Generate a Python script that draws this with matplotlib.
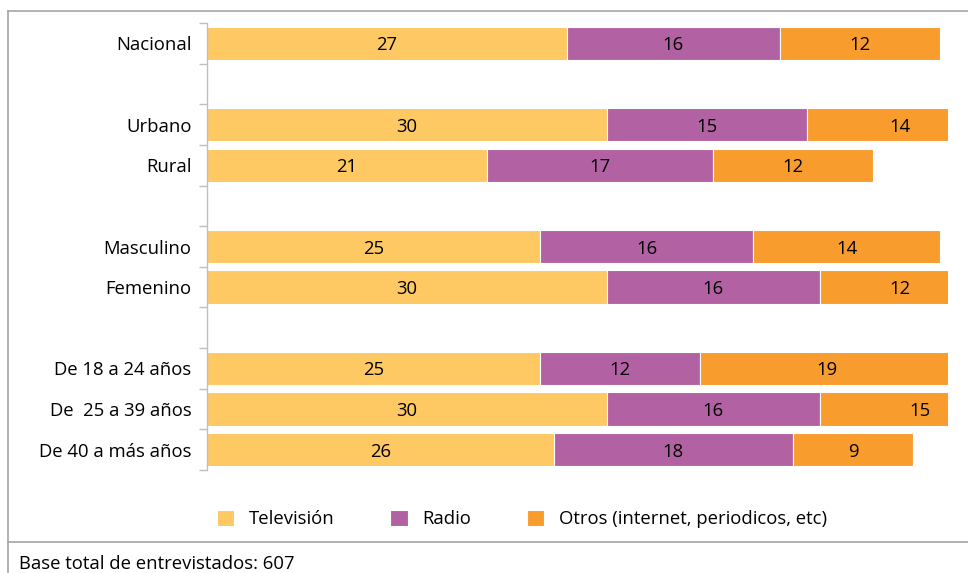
import matplotlib
matplotlib.use('Agg')
from matplotlib import pyplot as plt
from matplotlib.lines import Line2D
import numpy as np

plt.rcParams['font.family'] = ['Open Sans', 'DejaVu Sans']

# rows top to bottom, '' = blank spacer row
categories = ['Nacional', '', 'Urbano', 'Rural', '', 'Masculino', 'Femenino', '',
              'De 18 a 24 años', 'De  25 a 39 años', 'De 40 a más años']
television = [27, None, 30, 21, None, 25, 30, None, 25, 30, 26]
radio = [16, None, 15, 17, None, 16, 16, None, 12, 16, 18]
otros = [12, None, 14, 12, None, 14, 12, None, 19, 15, 9]
series_names = ['Televisión', 'Radio', 'Otros (internet, periodicos, etc)']
colors = ['#FEC863', '#B262A3', '#F99C2E']
footnote = 'Base total de entrevistados: 607'

W, H = 968, 573
fs = 13.3
fig = plt.figure(figsize=(W / 100, H / 100), dpi=100)
ax = fig.add_axes([207 / W, 1 - 470 / H, 741 / W, 447 / H])

n = len(categories)
ys = np.arange(n)
left = np.zeros(n)
handles = []
for vals, name, col in zip([television, radio, otros], series_names, colors):
    v = np.array([x if x is not None else 0 for x in vals], dtype=float)
    b = ax.barh(ys, v, left=left, height=0.82, color=col, edgecolor='white',
                linewidth=0.8, label=name)
    handles.append(b)
    for i, x in enumerate(vals):
        if x is None:
            continue
        ax.text(left[i] + x / 2.0, ys[i], str(x), ha='center', va='center_baseline',
                fontsize=fs, color='black', clip_on=False)
    left = left + v

ax.set_xlim(0, 55.6)
ax.set_ylim(n - 0.5, -0.5)
ax.set_yticks(ys)
ax.set_yticklabels(categories, fontsize=fs, va='center_baseline')
ax.set_yticks(np.arange(-0.5, n, 1), minor=True)
ax.tick_params(axis='y', which='major', length=0, pad=11)
ax.tick_params(axis='y', which='minor', length=6, width=1, color='#BFBFBF')
ax.set_xticks([])
for s in ['top', 'right', 'bottom']:
    ax.spines[s].set_visible(False)
ax.spines['left'].set_color('#BFBFBF')
ax.spines['left'].set_linewidth(1)

fig.legend(handles=handles, labels=series_names, loc='center',
           bbox_to_anchor=(522 / W, 1 - 519 / H), ncol=3, frameon=False,
           fontsize=fs, handlelength=0.95, handleheight=0.95,
           handletextpad=0.8, columnspacing=3.0)

# outer frame and footnote separator
gray = '#A6A6A6'
fig.add_artist(Line2D([8 / W, 1], [1 - 11 / H, 1 - 11 / H], color=gray, lw=1.2))
fig.add_artist(Line2D([8 / W, 8 / W], [0, 1 - 11 / H], color=gray, lw=1.2))
fig.add_artist(Line2D([8 / W, 1], [1 - 542 / H, 1 - 542 / H], color=gray, lw=1.2))
fig.text(19 / W, 1 - 562 / H, footnote, fontsize=fs, ha='left', va='center_baseline')

fig.savefig('out.png', dpi=100)
